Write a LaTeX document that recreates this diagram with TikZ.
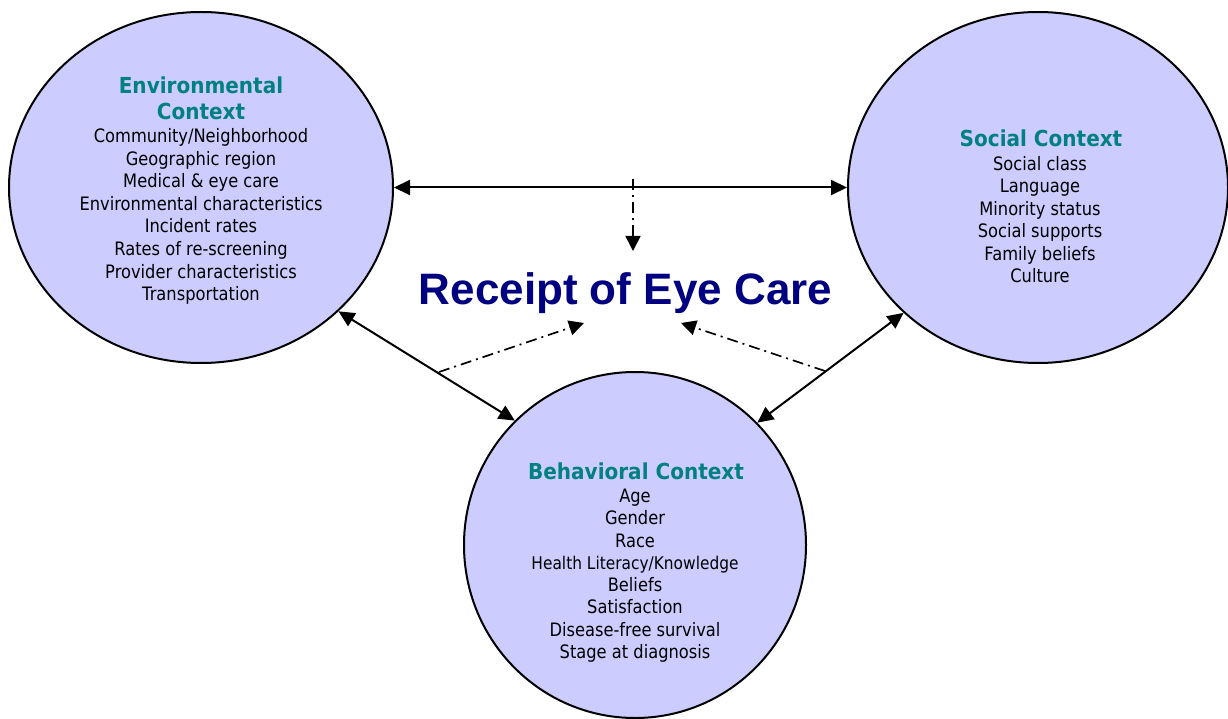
\documentclass[tikz,border=0pt]{standalone}
\usepackage{fontspec}
\usetikzlibrary{shapes.geometric,arrows.meta}
\newfontfamily\itemfont{DejaVu Sans}[FakeStretch=0.88]
\newfontfamily\headfont{DejaVu Sans}[FakeStretch=0.91]
\newfontfamily\titlefont{Liberation Sans}
\definecolor{ctxfill}{RGB}{204,204,255}
\definecolor{headteal}{RGB}{0,128,128}
\definecolor{titlenavy}{RGB}{0,0,128}
\tikzset{
  ctx/.style={ellipse, draw=black, line width=2pt, fill=ctxfill, inner sep=0pt},
  item/.style={font=\itemfont\fontsize{18.5}{22}\selectfont, inner sep=0pt, anchor=base, text=black},
  smallitem/.style={font=\itemfont\fontsize{17.5}{20}\selectfont, inner sep=0pt, anchor=base, text=black},
  head/.style={font=\headfont\bfseries\fontsize{22}{26}\selectfont, inner sep=0pt, anchor=base, text=headteal},
  biarrow/.style={line width=2pt, {Triangle[length=16pt,width=15pt]}-{Triangle[length=16pt,width=15pt]}},
  ddarrow/.style={line width=1.7pt, dash pattern=on 11pt off 5pt on 2pt off 5pt, -{Triangle[length=15pt,width=15pt]}}
}
\begin{document}
\begin{tikzpicture}[x=1pt,y=-1pt]
\useasboundingbox (0,0) rectangle (1228,719);
\fill[white] (0,0) rectangle (1228,719);

% context circles
\node[ctx, minimum width=384pt, minimum height=351pt] (env) at (201,187.5) {};
\node[ctx, minimum width=380pt, minimum height=351pt] (soc) at (1038,187.5) {};
\node[ctx, minimum width=342pt, minimum height=346pt] (beh) at (635,545) {};

% central title
\node[font=\titlefont\bfseries\fontsize{44}{50}\selectfont, text=titlenavy, inner sep=0pt, anchor=base] (rec) at (625.5,304) {Receipt of Eye Care};

% environmental text
\node[head] (envh1) at (201,93.3) {Environmental};
\node[head] (envh2) at (201,119.3) {Context};
\foreach \t [count=\i] in {Community/Neighborhood, Geographic region, Medical \& eye care, Environmental characteristics, Incident rates, Rates of re-screening, Provider characteristics, Transportation}
  \node[item] (envi\i) at (201,{142.7+22.57*(\i-1)}) {\t};

% social text
\node[head] (soch) at (1041,147) {Social Context};
\foreach \t [count=\i] in {Social class, Language, Minority status, Social supports, Family beliefs, Culture}
  \node[item] (soci\i) at (1040,{170.5+22.4*(\i-1)}) {\t};

% behavioral text
\node[head] (behh) at (636,479.3) {Behavioral Context};
\node[item] (behi1) at (635,502.7) {Age};
\node[item] (behi2) at (635,524.9) {Gender};
\node[item] (behi3) at (635,547.2) {Race};
\node[smallitem] (behi4) at (635,569.4) {Health Literacy/Knowledge};
\node[item] (behi5) at (635,591.6) {Beliefs};
\node[item] (behi6) at (635,613.9) {Satisfaction};
\node[item] (behi7) at (635,636.1) {Disease-free survival};
\node[item] (behi8) at (635,658.3) {Stage at diagnosis};

% solid two-way connectors
\draw[biarrow] (env.east) -- (soc.west);
\draw[biarrow] (env.-42.7) -- (beh.134.5);
\draw[biarrow] (soc.223.1) -- (beh.45.2);

% dash-dot influences on receipt of eye care
\coordinate (dvs) at (633,179);
\coordinate (dvt) at (633,251);
\coordinate (dls) at (439,372);
\coordinate (dlt) at (584,323);
\coordinate (drs) at (825,371);
\coordinate (drt) at (681,323);
\draw[ddarrow] (dvs) -- (dvt);
\draw[ddarrow] (dls) -- (dlt);
\draw[ddarrow] (drs) -- (drt);
\end{tikzpicture}
\end{document}
